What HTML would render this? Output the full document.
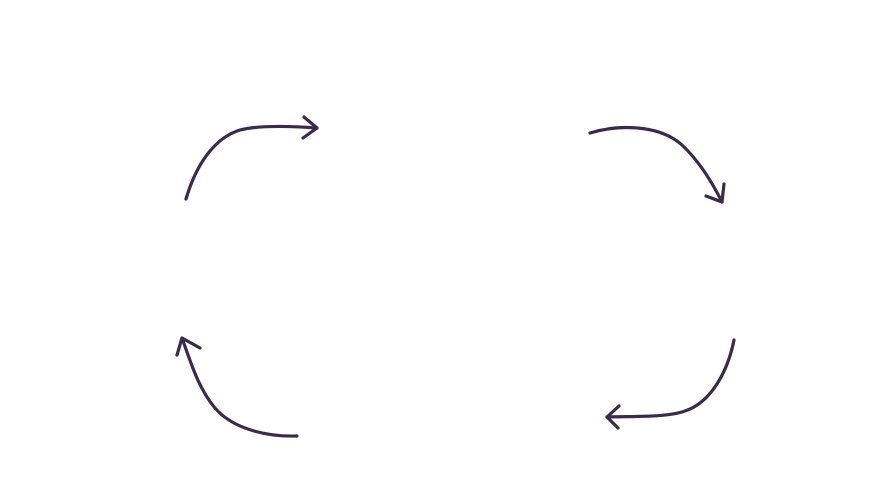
<!DOCTYPE html>
<html><head><style>html,body{margin:0;padding:0;background:#fff;}svg{display:block}</style></head>
<body>
<svg width="877" height="484" viewBox="0 0 877 484" xmlns="http://www.w3.org/2000/svg">
<g fill="none" stroke="#3b2a4b" stroke-width="3.2" stroke-linecap="round" stroke-linejoin="round">
<path d="M186,199 C196,165 214,138 240,130 C260,125 290,126 317,128"/>
<path d="M304,117 L317,128 L303,138"/>
<path d="M590,133 C620,124 660,125 682,145 C698,160 712,182 722,202"/>
<path d="M724,184 L722,202 L706,196"/>
<path d="M734,340 C728,370 712,402 685,411 C665,418 630,416 607,417"/>
<path d="M619,406 L607,417 L618,428"/>
<path d="M297,436 C265,437 232,428 215,408 C198,388 190,360 182,338"/>
<path d="M177,355 L182,338 L200,348"/>
</g>
</svg>
</body></html>
